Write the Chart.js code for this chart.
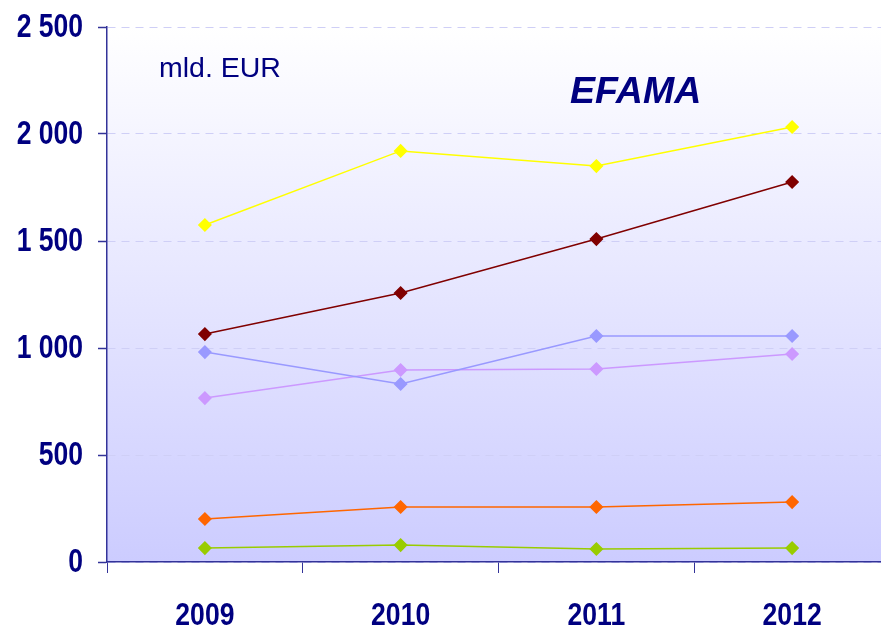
<!DOCTYPE html>
<html>
<head>
<meta charset="utf-8">
<script src="https://cdn.jsdelivr.net/npm/chart.js@4.4.1/dist/chart.umd.min.js"></script>
<style>
  html, body { margin: 0; padding: 0; background: #fff; overflow: hidden; }
  #wrap { width: 900px; height: 631px; }
</style>
</head>
<body>
<div id="wrap"><canvas id="efamaChart"></canvas></div>
<script>
// kategorie a hodnoty (mld. EUR)
const years = ['2009', '2010', '2011', '2012'];
const yTicks = [0, 500, 1000, 1500, 2000, 2500];

const seriesYellow = [1575, 1921, 1850, 2033];
const seriesDarkRed = [1065, 1257, 1509, 1776];
const seriesBlue = [981, 832, 1056, 1056];
const seriesViolet = [766, 897, 902, 972];
const seriesOrange = [201, 257, 257, 280];
const seriesGreen = [65, 79, 61, 65];

const navy = '#000080';
const axisColor = '#333399';
const labelFamily = '"Liberation Sans", Arial, sans-serif';

const fmtThousands = v => v >= 1000 ? Math.floor(v / 1000) + ' ' + String(v % 1000).padStart(3, '0') : String(v);

const makeSet = (data, color) => ({
    data: data,
    borderColor: color,
    backgroundColor: color,
    borderWidth: 1.5,
    pointStyle: 'rectRot',
    pointRadius: 6,
    pointHoverRadius: 6,
    tension: 0
});

// zúžené tučné písmo (jako Arial Narrow) - fillText s maxWidth
function narrowText(ctx, text, x, y, squeeze) {
    const w = ctx.measureText(text).width;
    ctx.fillText(text, x, y, w * squeeze);
}

// pozadí plochy grafu + popisky
const decorPlugin = {
    id: 'decor',
    beforeDraw(chart) {
        const { ctx, chartArea: a } = chart;
        const g = ctx.createLinearGradient(0, a.top, 0, a.bottom);
        g.addColorStop(0, '#ffffff');
        g.addColorStop(1, '#ccccff');
        ctx.save();
        ctx.fillStyle = g;
        ctx.fillRect(a.left, a.top, a.right - a.left, a.bottom - a.top);
        ctx.restore();
    },
    afterDraw(chart) {
        const { ctx, chartArea: a, scales } = chart;
        ctx.save();
        ctx.fillStyle = navy;
        ctx.textBaseline = 'middle';

        // popisky osy Y
        ctx.font = 'bold 34px ' + labelFamily;
        ctx.textAlign = 'right';
        scales.y.ticks.forEach(t => {
            narrowText(ctx, fmtThousands(t.value), scales.y.right - 24, scales.y.getPixelForValue(t.value) + 1, 0.78);
        });

        // popisky osy X
        ctx.font = 'bold 32px ' + labelFamily;
        ctx.textAlign = 'center';
        years.forEach((yr, i) => {
            narrowText(ctx, yr, scales.x.getPixelForTick(i), a.bottom + 54, 0.83);
        });

        ctx.textAlign = 'left';
        ctx.font = '28.5px ' + labelFamily;
        ctx.fillText('mld. EUR', a.left + 52, a.top + 42);
        ctx.font = 'italic bold 37.5px ' + labelFamily;
        ctx.fillText('EFAMA', a.left + 463, a.top + 66);
        ctx.restore();
    }
};

const ctx = document.getElementById('efamaChart').getContext('2d');
new Chart(ctx, {
    type: 'line',
    data: {
        labels: years,
        datasets: [
            makeSet(seriesYellow, '#ffff00'),
            makeSet(seriesDarkRed, '#800000'),
            makeSet(seriesBlue, '#9999ff'),
            makeSet(seriesViolet, '#cc99ff'),
            makeSet(seriesOrange, '#ff6600'),
            makeSet(seriesGreen, '#99cc00')
        ]
    },
    plugins: [decorPlugin],
    options: {
        responsive: true,
        maintainAspectRatio: false,
        animation: false,
        layout: { padding: { top: 27, right: 10, left: 0, bottom: 0 } },
        plugins: { legend: { display: false }, tooltip: { enabled: false } },
        scales: {
            x: {
                offset: true,
                grid: { drawOnChartArea: false, drawTicks: true, offset: true, tickLength: 11, tickColor: axisColor, tickWidth: 1 },
                border: { color: axisColor, width: 1.5 },
                ticks: { display: false },
                afterFit(scale) { scale.height = 69; }
            },
            y: {
                min: 0,
                max: 2500,
                afterBuildTicks(scale) { scale.ticks = yTicks.map(v => ({ value: v })); },
                grid: { color: '#cfcff6', lineWidth: 1, tickLength: 9, tickColor: axisColor, tickWidth: 1.5 },
                border: { color: axisColor, width: 1.5, dash: [8, 6] },
                ticks: { display: false },
                afterFit(scale) { scale.width = 107; }
            }
        }
    }
});
</script>
</body>
</html>
